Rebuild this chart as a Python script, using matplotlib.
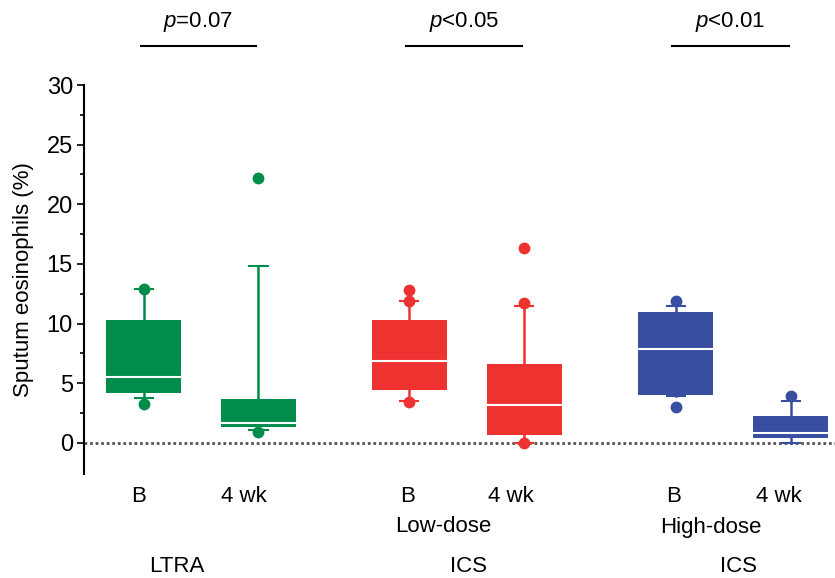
import matplotlib
matplotlib.use("Agg")
import matplotlib.pyplot as plt

plt.rcParams["font.family"] = ["Liberation Sans", "DejaVu Sans"]
plt.rcParams["mathtext.fontset"] = "custom"
plt.rcParams["mathtext.it"] = "Liberation Sans:italic"
plt.rcParams["mathtext.rm"] = "Liberation Sans"

# box statistics (sputum eosinophils, %)
labels = ["B", "4 wk", "B", "4 wk", "B", "4 wk"]
medians = [5.5, 1.7, 6.9, 3.2, 7.9, 0.8]
q1s = [4.2, 1.3, 4.4, 0.7, 4.0, 0.4]
q3s = [10.3, 3.7, 10.3, 6.6, 11.0, 2.3]
whis_lo = [3.8, 1.1, 3.5, 0.0, 3.9, 0.0]
whis_hi = [12.9, 14.8, 11.9, 11.5, 11.5, 3.5]
fliers = [[12.9, 3.3], [22.2, 0.9], [12.8, 11.9, 3.4], [16.3, 11.7, 0.0], [11.9, 3.0], [3.9]]
colors = ["#008c4a", "#008c4a", "#ee3230", "#ee3230", "#384ea0", "#384ea0"]
p_texts = ["$p$=0.07", "$p$<0.05", "$p$<0.01"]
groups = ["LTRA", "ICS", "ICS"]
doses = ["", "Low-dose", "High-dose"]

positions = [1, 2, 3.315, 4.32, 5.645, 6.65]

fig = plt.figure(figsize=(8.35, 5.78), dpi=100)
ax = fig.add_axes([84 / 835, 1 - 474 / 578, 1 - 84 / 835, (474 - 85) / 578])

for i in range(6):
    st = [dict(med=medians[i], q1=q1s[i], q3=q3s[i], whislo=whis_lo[i],
               whishi=whis_hi[i], fliers=fliers[i])]
    c = colors[i]
    ax.bxp(st, positions=[positions[i]], widths=0.655, patch_artist=True,
           showfliers=True, capwidths=0.16,
           boxprops=dict(facecolor=c, edgecolor=c, linewidth=0),
           medianprops=dict(color="white", linewidth=1.5),
           whiskerprops=dict(color=c, linewidth=1.8),
           capprops=dict(color=c, linewidth=1.5),
           flierprops=dict(marker="o", markersize=8.5, markerfacecolor=c,
                           markeredgecolor="none"))

ax.axhline(0, color="#555555", linestyle=(0, (1, 1)), linewidth=2, zorder=0)

ax.set_xlim(0.476, 7.035)
ax.set_ylim(-2.6, 30)
ax.set_yticks([0, 5, 10, 15, 20, 25, 30])
ax.set_yticks([2.5, 7.5, 12.5, 17.5, 22.5, 27.5], minor=True)
ax.tick_params(axis="y", which="major", length=5, width=1.2, labelsize=17, pad=3)
ax.tick_params(axis="y", which="minor", length=3, width=1.2)
ax.set_xticks([])
for s in ["top", "right", "bottom"]:
    ax.spines[s].set_visible(False)
ax.spines["left"].set_linewidth(1.5)
ax.set_ylabel("Sputum eosinophils (%)", fontsize=16, labelpad=9)

# p-value brackets above each pair
for k in range(3):
    x0 = positions[2 * k] - 0.03
    x1 = positions[2 * k + 1] - 0.02
    ax.plot([x0, x1], [33.3, 33.3], color="black", linewidth=1.5, clip_on=False)
    ax.text((x0 + x1) / 2, 35.3, p_texts[k], ha="center", va="center",
            fontsize=16, clip_on=False)

# labels under the boxes
sub_x = [139, 244, 408, 511, 674, 779]
for i in range(6):
    fig.text(sub_x[i] / 835, 1 - 497 / 578, labels[i], ha="center", va="center", fontsize=16)
dose_x = [0, 443, 711]
group_x = [177, 468, 738]
for k in range(3):
    if doses[k]:
        fig.text(dose_x[k] / 835, 1 - 527 / 578, doses[k], ha="center", va="center", fontsize=16)
    fig.text(group_x[k] / 835, 1 - 566 / 578, groups[k], ha="center", va="center", fontsize=16)

fig.savefig("out.png", dpi=100)
